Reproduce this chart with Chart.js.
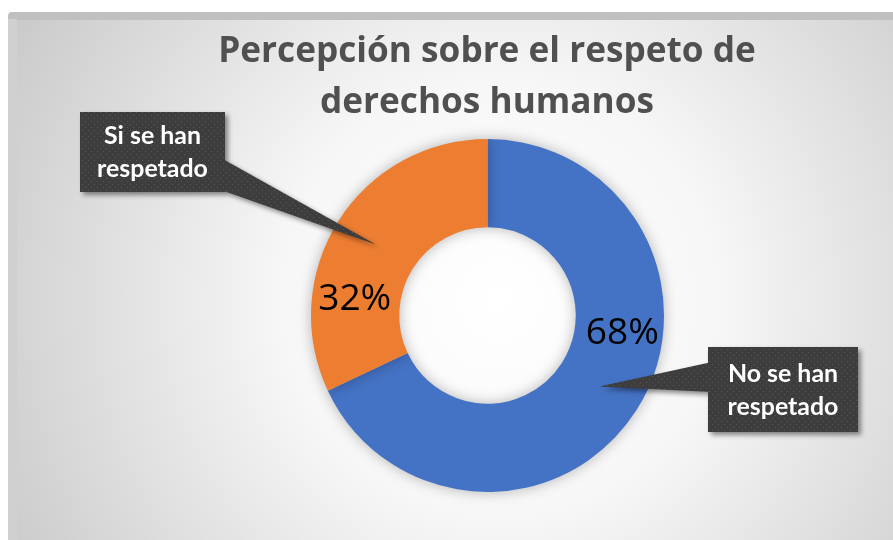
<!DOCTYPE html>
<html>
<head>
<meta charset="utf-8">
<script src="https://cdn.jsdelivr.net/npm/chart.js@4.4.0/dist/chart.umd.min.js"></script>
<style>
  html, body { margin: 0; padding: 0; background: #ffffff; }
  #chart { display: block; }
</style>
</head>
<body>
<canvas id="chart" width="893" height="540"></canvas>
<script>
// datos del grafico
const categorias = ["No se han respetado", "Si se han respetado"];
const valores = [68, 32];
const colores = ["#4472C4", "#ED7D31"];
const titulo = ["Percepción sobre el respeto de", "derechos humanos"];
// etiquetas de las llamadas (dos lineas cada una)
const llamadas = [["No se han", "respetado"], ["Si se han", "respetado"]];

const FONT = "Lato, 'Open Sans', sans-serif";
const FONT_TITULO = "'Open Sans', Lato, sans-serif";

// ajusta el tamano de letra para que el texto ocupe un ancho dado
const fitFont = (ctx, text, width, weight, family = FONT) => {
  ctx.font = `${weight} 100px ${family}`;
  const w = ctx.measureText(text).width;
  return `${weight} ${(100 * width / w).toFixed(1)}px ${family}`;
};

const makePattern = (ctx) => {
  const c = document.createElement("canvas");
  c.width = 6;
  c.height = 6;
  const p = c.getContext("2d");
  p.fillStyle = "#3d3d3d";
  p.fillRect(0, 0, 6, 6);
  p.fillStyle = "#575757";
  p.fillRect(1, 1, 1, 1);
  p.fillRect(4, 4, 1, 1);
  return ctx.createPattern(c, "repeat");
};

// fondo con degradado radial
const fondoPlugin = {
  id: "fondo",
  beforeDraw(chart) {
    const ctx = chart.ctx;
    ctx.save();
    ctx.fillStyle = "#ffffff";
    ctx.fillRect(0, 0, chart.width, chart.height);
    const g = ctx.createRadialGradient(500, 300, 0, 500, 300, 620);
    g.addColorStop(0, "#ffffff");
    g.addColorStop(0.35, "#f7f7f7");
    g.addColorStop(1, "#c2c2c2");
    ctx.fillStyle = "#c0c0c0";
    ctx.beginPath();
    ctx.roundRect(8, 12, chart.width, chart.height, 4);
    ctx.fill();
    ctx.fillStyle = g;
    ctx.fillRect(17, 20, chart.width, chart.height);
    ctx.fillStyle = "rgba(255,255,255,0.25)";
    ctx.fillRect(8, 19, 9, chart.height);

    // titulo
    ctx.fillStyle = "#505050";
    ctx.textAlign = "center";
    ctx.textBaseline = "alphabetic";
    ctx.font = fitFont(ctx, titulo[0], 538, "bold", FONT_TITULO);
    ctx.fillText(titulo[0], 487, 62);
    ctx.fillText(titulo[1], 487, 113);
    ctx.restore();
  },
  beforeDatasetsDraw(chart) {
    chart.ctx.save();
    chart.ctx.shadowColor = "rgba(0,0,0,0.28)";
    chart.ctx.shadowBlur = 14;
  },
  afterDatasetsDraw(chart) {
    chart.ctx.restore();
  },
  afterDraw(chart) {
    const ctx = chart.ctx;
    const arcs = chart.getDatasetMeta(0).data;
    const total = valores.reduce((a, b) => a + b, 0);
    ctx.save();

    // porcentajes
    const desplaz = [[23, -53], [-21, 55]];
    ctx.fillStyle = "#000000";
    ctx.textAlign = "center";
    ctx.textBaseline = "middle";
    arcs.forEach((arc, i) => {
      const pos = arc.tooltipPosition();
      const txt = Math.round(valores[i] / total * 100) + "%";
      ctx.font = fitFont(ctx, "68%", 73, "normal", FONT_TITULO);
      ctx.fillText(txt, pos.x + desplaz[i][0], pos.y + desplaz[i][1]);
    });

    // llamadas
    const cajas = [
      { x: 708, y: 347, w: 150, h: 85, base: [[712, 362], [712, 392]] },
      { x: 80, y: 112, w: 145, h: 80, base: [[221, 158], [221, 190]] },
    ];
    const patron = makePattern(ctx);
    arcs.forEach((arc, i) => {
      const b = cajas[i];
      const tip = arc.tooltipPosition();
      let [p0, p1] = b.base;
      // mismo sentido de giro que el rectangulo, para que no quede hueco
      const cruz = (tip.x - p0[0]) * (p1[1] - p0[1]) - (tip.y - p0[1]) * (p1[0] - p0[0]);
      if (cruz < 0) [p0, p1] = [p1, p0];
      ctx.save();
      ctx.shadowColor = "rgba(0,0,0,0.45)";
      ctx.shadowBlur = 5;
      ctx.shadowOffsetX = 3;
      ctx.shadowOffsetY = 3;
      ctx.fillStyle = patron;
      ctx.beginPath();
      ctx.rect(b.x, b.y, b.w, b.h);
      ctx.moveTo(p0[0], p0[1]);
      ctx.lineTo(tip.x, tip.y);
      ctx.lineTo(p1[0], p1[1]);
      ctx.closePath();
      ctx.fill("nonzero");
      ctx.restore();

      ctx.fillStyle = "#ffffff";
      ctx.textAlign = "center";
      ctx.textBaseline = "middle";
      ctx.font = fitFont(ctx, "respetado", 111, "bold");
      const cx = b.x + b.w / 2;
      const cy = b.y + b.h / 2;
      ctx.fillText(llamadas[i][0], cx, cy - 16);
      ctx.fillText(llamadas[i][1], cx, cy + 17);
    });
    ctx.restore();
  },
};

const ctx = document.getElementById("chart").getContext("2d");
new Chart(ctx, {
  type: "doughnut",
  data: {
    labels: categorias,
    datasets: [
      {
        data: valores,
        backgroundColor: colores,
        borderWidth: 0,
      },
    ],
  },
  options: {
    responsive: false,
    animation: false,
    cutout: "50%",
    layout: {
      padding: { left: 311, right: 229, top: 139, bottom: 48 },
    },
    plugins: {
      legend: { display: false },
      title: { display: false },
      tooltip: { enabled: false },
    },
  },
  plugins: [fondoPlugin],
});
</script>
</body>
</html>
